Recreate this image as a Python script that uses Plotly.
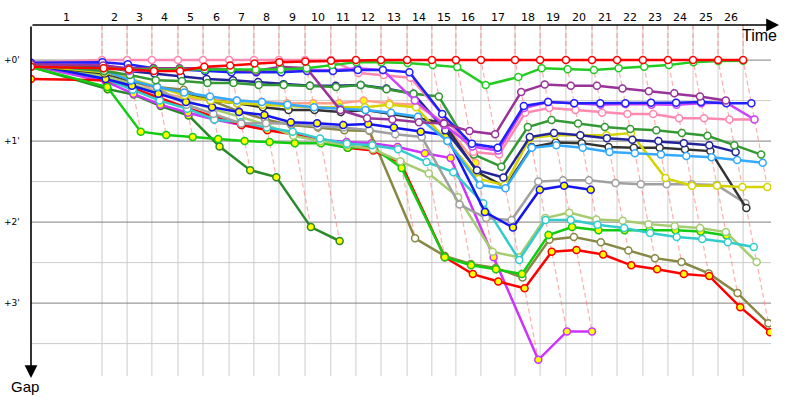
import plotly.graph_objects as go

# ---------------- data ----------------
# leader's elapsed time (s) at the end of each lap, lap 0 = start
leader_time = [0, 275, 372, 468, 569, 666, 767, 863, 960, 1061, 1161, 1258, 1355, 1456,
               1552, 1645, 1742, 1874, 1971, 2071, 2172, 2269, 2369, 2466, 2563, 2660, 2757]
lap_labels = [str(i) for i in range(1, 27)]
gap_tick_vals = [0, 60, 120, 180]
gap_tick_text = ["+0'", "+1'", "+2'", "+3'"]
N = None

# gap to leader (s) at the end of laps 0..26 for each car
gaps_red = [5, 6, 7, 8, 8, 5, 4, 2.5, 1.5, 1, 0.5, 0, 0, 0, 0, 0, 0, 0, 0, 0, 0, 0, 0, 0, 0, 0, 0]
gaps_pink = [2, 0, 0, 0, 0, 0, 0, 0, 0, 0, 0, 9.6, 11, 13, 40, 68, 70, 39, 35.5, 37, 39, 40, 40, 43, 43, 44, 44]
gaps_violet = [4, 3, 8, 7, 7, 7, 8, 8, 7, 7, 7.5, 6, 7.4, 30, 48, 64, 67, 35.5, 31, 32, 33, 32.5, 33, 33, 32, 31.5, 44]
gaps_purple = [3, 4, 6, 6, 6, 6, 7, 8, 5, 6, 37, 43, 44, 46, 47, 52.6, 55, 23.7, 18, 19, 19, 21, 23, 24.5, 27, 30, N]
gaps_green = [5, 6, 7, 7, 7, 7, 7, 7, 7, 6, 3.7, 1.5, 1.5, 2.2, 3.7, 5.2, 18.5, 12.6, 6, 6.7, 7.4, 6, 5, 3.7, 1.5, 0.7, 0.5]
gaps_green2 = [3, 8, 11, 15, 15.5, 17, 17, 18.5, 18.5, 19, 20, 18.5, 21.5, 25, 27, 70, 79, 49.6, 44.4, 47, 49.6, 51, 52, 54, 56, 63, 70]
gaps_blue = [2, 1.5, 3, 6, 7, 8, 9, 9, 9, 8, 8, 7.4, 7.4, 9, 40, 62, 65, 34, 31, 32, 32, 32, 31.5, 31.5, 31, 32, 32]
gaps_blue_y = [3, 14, 19, 25, 31, 35, 38.5, 40.7, 46, 46.7, 48, 47.4, 50, 53, 55.6, 112.6, 124, 96, 93, 96,
               N, N, N, N, N, N, N]
gaps_navy = [4, 5, 8, 10, 12, 14, 15, 16.3, 17.8, 19, 19, 18.5, 21, 25, 52, 81.5, 87, 57, 54, 55.6, 57.8, 59, 60, 61.5, 63, 68, N]
gaps_sky = [3, 8, 15, 20, 24, 27, 30, 31, 33, 35, 36, 37, 39, 42, 60, 92.6, 95, 65, 63, 65, 68, 69, 70, 71, 72, 74, 76]
gaps_yellow = [4, 9, 14, 20, 26, 30, 32, 33, 34, 35, 35, 35, 33, 35, 60, 88, 92.6, 57.8, 55.6, 55.6, 55.6, 54, 87.4, 93, 93, 94, 94]
gaps_black = [4, 10, 15, 20, 25, 30, 32, 35, 37, 37, 38.5, 37, 40, 43, 46.7, 83, 94, 64.4, 61, 61.5, 64.4, 65, 65, 66, 67.4, 109.6, N]
gaps_gray = [4, 8, 14, 20.7, 33, 40, 47, 46.7, 47, 49, 50, 52, 55, 57, 107, 117, 118.5, 90, 89, 89, 91, 92, 92, 92, 92.6, 106, N]
gaps_lime = [5, 20, 53, 55.5, 57, 58.5, 60, 60.7, 61.5, 61.5, 65, 64.4, 80, 146, 152, 155, 158.5, 129.6, 123.7, 126, 126, 126, 126, 127, 130, N, N]
gaps_red2 = [14, 15, 20.7, 28, 35.5, 42, 48, 52, 55, 60, 65, 67, 76, 146, 158.5, 164, 169, 142, 140.7, 144, 152, 155, 158.5, 160, 183, 201.5, N]
gaps_olive = [3, 10, 16, 20, 22, 30, 38, 44, 48, 50, 52, 52.6, 132, 145, 151, 154, 161, 133, 131, 135, 141, 146.7, 149.6, 158, 172.6, 195, N]
gaps_magenta = [4, 16, 25, 33, 39, 44, 48, 51, 54, 59, 60.7, 61.5, 64.4, 69, 72.6, 146, 222, 201, 201,
                N, N, N, N, N, N, N, N]
gaps_dkgreen = [5, 21.5, 25.5, 34, 41, 64, 81.5, 86.7, 123.7, 134,
                N, N, N, N, N, N, N, N, N, N, N, N, N, N, N, N, N]
gaps_salmon = [3, 5, 14, 24, 28, 29.5, 30, 31, 32, 32, 32, 30, 32, 33, 46, 76,
               N, N, N, N, N, N, N, N, N, N, N]
gaps_cyan = [3, 14, 22, 30, 36, 44, 46, 50, 53, 58, 62, 63, 66, 75.5, 83, 106, 148, 118.5, 118.5, 122, 124.4, 128, 131, 132.6, 135, 138.5, N]
gaps_ltgreen = [3, 12, 18, 24, 30, 36, 42, 48, 56, 60, 63, 66, 75, 84, 101.5, 142, 146, 117, 113, 118, 119, 121.5, 123, 124.4, 127.4, 149.6, N]

WHITE, YEL = "#ffffff", "#ffff00"
# drawing order: first = bottom
series = [
    (gaps_dkgreen, "#2a8a2a", YEL),
    (gaps_salmon, "#ffa08a", YEL),
    (gaps_magenta, "#cc33ff", YEL),
    (gaps_olive, "#888844", WHITE),
    (gaps_red2, "#ff0000", YEL),
    (gaps_lime, "#11cc11", YEL),
    (gaps_ltgreen, "#a5cc70", WHITE),
    (gaps_cyan, "#33cccc", WHITE),
    (gaps_gray, "#a0a0a0", WHITE),
    (gaps_blue_y, "#1515f0", YEL),
    (gaps_black, "#333333", WHITE),
    (gaps_yellow, "#d4d400", WHITE),
    (gaps_sky, "#33aaff", WHITE),
    (gaps_navy, "#24249a", WHITE),
    (gaps_green2, "#339933", WHITE),
    (gaps_pink, "#ff88b0", WHITE),
    (gaps_violet, "#cc44ff", WHITE),
    (gaps_blue, "#2020ff", WHITE),
    (gaps_purple, "#993399", WHITE),
    (gaps_green, "#22cc22", WHITE),
    (gaps_red, "#ff0000", WHITE),
]

X_MAX = 2865
Y_TOP, Y_BOT = -26, 234

fig = go.Figure()

# lap lines (dashed) from the leader's crossing to the last car on that lap
dx, dy = [], []
for i in range(1, len(leader_time)):
    lap_gaps = [s[0][i] for s in series if s[0][i] is not None]
    gmax = max(lap_gaps)
    t = leader_time[i]
    dx += [t, t, t + gmax, None]
    dy += [Y_TOP, 0, gmax, None]
fig.add_trace(go.Scatter(x=dx, y=dy, mode="lines",
                         line=dict(color="rgba(255,120,120,0.6)", width=1.2, dash="5px,3px"),
                         hoverinfo="skip", showlegend=False))

for gaps, color, fill in series:
    xs, ys = [], []
    for i, g in enumerate(gaps):
        if g is None:
            continue
        xs.append(leader_time[i] + (g if i > 0 else 0))
        ys.append(g)
    fig.add_trace(go.Scatter(
        x=xs, y=ys, mode="lines+markers",
        line=dict(color=color, width=2.5),
        marker=dict(size=7, color=fill, line=dict(color=color, width=1.5)),
        showlegend=False))

shapes = []
for t in leader_time[1:]:
    shapes.append(dict(type="line", xref="x", yref="paper", x0=t, x1=t, y0=0, y1=1,
                       line=dict(color="#cccccc", width=1), layer="below"))
for g in [30, 90, 150, 210]:
    shapes.append(dict(type="line", xref="paper", yref="y", x0=0, x1=1, y0=g, y1=g,
                       line=dict(color="#cccccc", width=1), layer="below"))
for g in gap_tick_vals:
    shapes.append(dict(type="line", xref="paper", yref="y", x0=0, x1=1, y0=g, y1=g,
                       line=dict(color="#808080", width=1), layer="below"))

ann = []
for i, lab in enumerate(lap_labels):
    xm = (leader_time[i] + leader_time[i + 1]) / 2
    ann.append(dict(x=xm, y=1.0214, xref="x", yref="paper", text=lab, showarrow=False,
                    font=dict(family="DejaVu Sans", size=11, color="#000000"),
                    xanchor="center", yanchor="middle"))
for v, txt in zip(gap_tick_vals, gap_tick_text):
    ann.append(dict(x=-0.0122, y=v, xref="paper", yref="y", text=txt, showarrow=False,
                    font=dict(family="DejaVu Sans", size=9, color="#000000"),
                    xanchor="right", yanchor="middle"))
# axes with arrows
ann.append(dict(x=0, y=-0.006, xref="paper", yref="paper", ax=0, ay=-353, axref="pixel", ayref="pixel",
                text="", showarrow=True, arrowhead=2, arrowsize=1.6, arrowwidth=1.6, arrowcolor="#000000"))
ann.append(dict(x=1.0108, y=1, xref="paper", yref="paper", ax=-748, ay=0, axref="pixel", ayref="pixel",
                text="", showarrow=True, arrowhead=2, arrowsize=1.6, arrowwidth=1.6, arrowcolor="#000000"))
ann.append(dict(x=0.985, y=0.9715, xref="paper", yref="paper", text="Time", showarrow=False,
                font=dict(family="Liberation Sans", size=16, color="#000000"),
                xanchor="center", yanchor="middle"))
ann.append(dict(x=-0.0081, y=-0.0285, xref="paper", yref="paper", text="Gap", showarrow=False,
                font=dict(family="Liberation Sans", size=15, color="#000000"),
                xanchor="center", yanchor="middle"))

fig.update_layout(
    width=800, height=400,
    margin=dict(l=31, r=29, t=25, b=24),
    paper_bgcolor="#ffffff", plot_bgcolor="#ffffff",
    xaxis=dict(range=[0, X_MAX], showgrid=False, zeroline=False, showticklabels=False,
               showline=False, ticks=""),
    yaxis=dict(range=[Y_BOT, Y_TOP], showgrid=False, zeroline=False, showticklabels=False,
               showline=False, ticks=""),
    shapes=shapes, annotations=ann, showlegend=False,
)

fig.write_html("out.html")
